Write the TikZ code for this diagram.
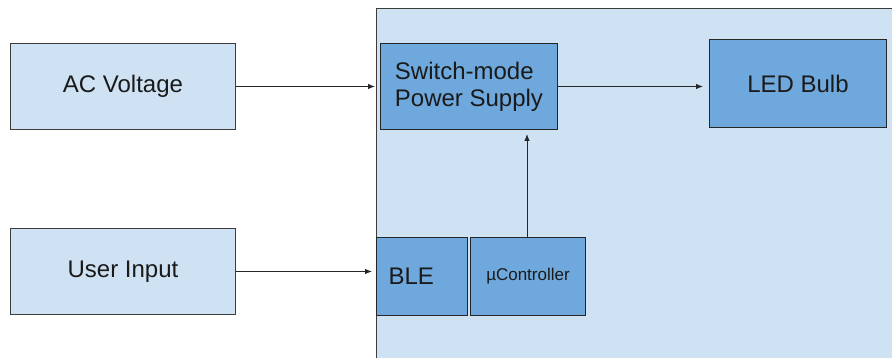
\documentclass[tikz,border=0pt]{standalone}
\usepackage{fontspec}
\setmainfont{Liberation Sans}
\usepackage{xcolor}
\usepackage{tikz}
\usetikzlibrary{positioning,arrows.meta}
\definecolor{boxLight}{HTML}{CFE2F3}
\definecolor{boxDark}{HTML}{6FA8DC}
\definecolor{lineGray}{HTML}{3C3C3C}
\definecolor{textDark}{HTML}{1A1A1A}

\begin{document}
\begin{tikzpicture}[
  x=1pt, y=1pt,
  every node/.style={font=\fontsize{24}{27}\selectfont, text=textDark},
  source/.style={rectangle, draw=lineGray, line width=1pt, fill=boxLight,
    minimum width=225pt, minimum height=86pt, inner sep=0pt},
  block/.style={rectangle, draw=black!85, line width=1pt, fill=boxDark,
    minimum height=86pt, inner sep=0pt},
  arrow/.style={-{Latex[length=7pt,width=5.5pt]}, line width=0.9pt, black!85},
]
\useasboundingbox (0,0) rectangle (892,-358);

% Device enclosure
\fill[boxLight] (376,-9) rectangle (892,-358);
\draw[lineGray, line width=1pt] (376,-358) |- (892,-9);

% Inputs
\node[source] (ac) at (123,-86.5) {AC Voltage};
\node[source, below=98pt of ac] (user) {User Input};

% Blocks inside the device
\node[block, minimum width=177pt, align=left, right=144pt of ac] (smps) {Switch-mode\\Power Supply};
\node[block, minimum width=177pt, minimum height=88pt, right=151pt of smps, yshift=3pt] (led) {LED Bulb};
\node[block, minimum width=91pt, minimum height=78pt, text width=67pt, inner xsep=12pt,
  align=left, right=140pt of user, yshift=-5pt] (ble) {BLE};
\node[block, minimum width=115pt, minimum height=78pt, right=2pt of ble,
  font=\fontsize{17}{20}\selectfont] (uc) {µController};

% Connections
\draw[arrow, shorten >=5pt] (ac) -- (smps);
\draw[arrow, shorten >=4pt] (user) -- (user -| ble.west);
\draw[arrow, shorten >=6pt] (smps) -- (smps -| led.west);
\draw[arrow, shorten >=4pt] ([xshift=-1pt]uc.north) -- ([xshift=-1pt]uc.north |- smps.south);
\end{tikzpicture}
\end{document}
